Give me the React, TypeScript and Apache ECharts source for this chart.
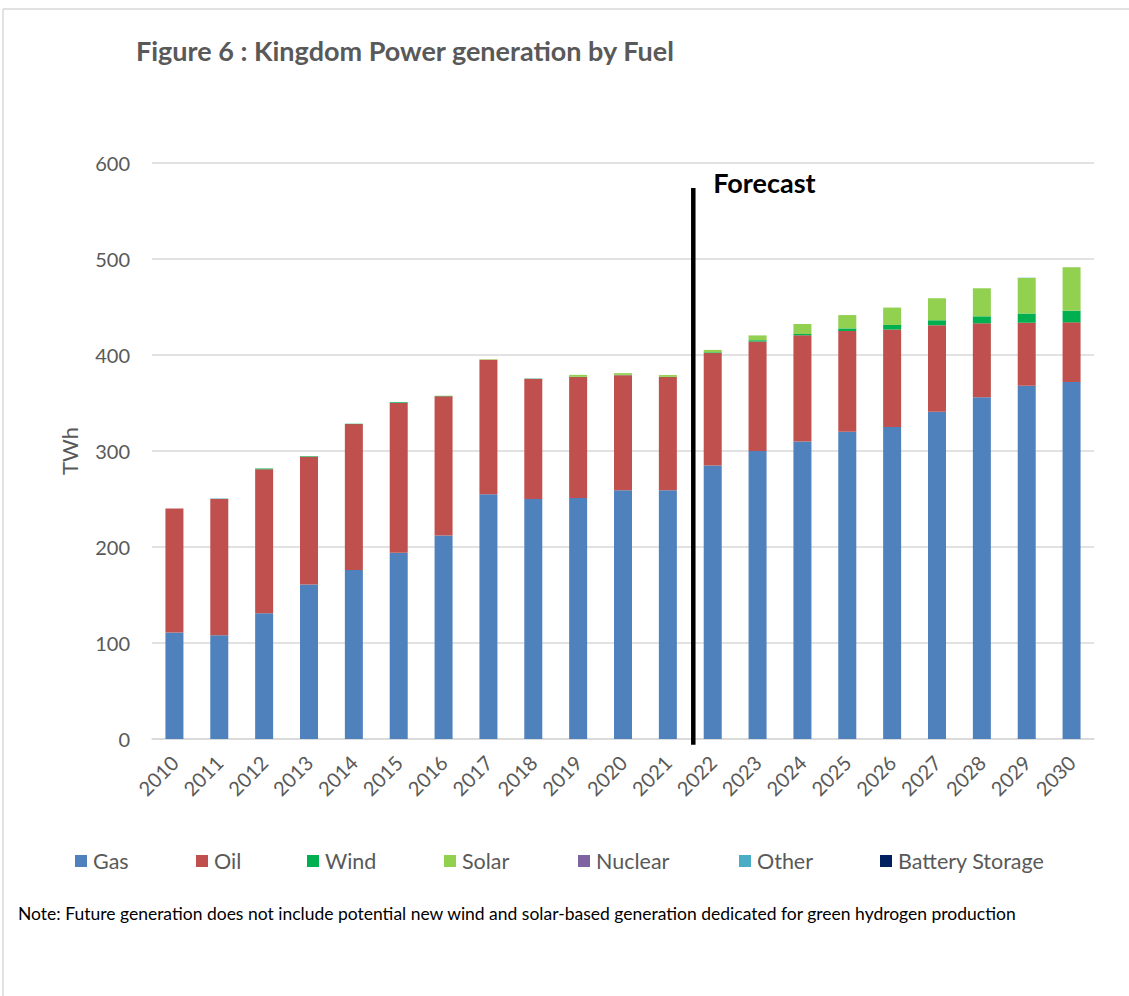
import React, { useEffect, useRef } from "react";
import * as echarts from "echarts";

const years = ["2010","2011","2012","2013","2014","2015","2016","2017","2018","2019","2020","2021","2022","2023","2024","2025","2026","2027","2028","2029","2030"];
const gas = [111,108,131,161,176,194,212,255,250,251,259,259,285,300,310,320,325,341,356,368,372];
const oil = [129,142,150,133,152,156,145,140,125,126,120,118,117,114,110.5,105,101.5,90,77,65.5,62];
const wind = [0,0,0.8,0.6,0.4,0.8,0.3,0,0,0.3,0.3,0.3,0.8,1.4,1.4,2.7,4.8,5.2,7.3,9.7,12.2];
const solar = [0,0,0,0,0,0,0.3,0.5,0.3,2,1.8,1.8,2.5,5,10.4,13.9,18.1,22.9,29.2,36.9,45.2];
const nuclear = [0,0,0,0,0,0,0,0,0,0,0,0,0,0,0,0,0,0,0,0,0];
const other = [0,0.5,0,0,0,0,0,0,0.4,0,0,0,0,0,0,0,0,0,0,0.3,0];
const battery = [0,0,0,0,0,0,0,0,0,0,0,0,0,0,0,0,0,0,0,0,0];
const yTicks = [0, 100, 200, 300, 400, 500, 600];

const seriesDefs = [
  { name: "Gas", data: gas, color: "#4f81bd" },
  { name: "Oil", data: oil, color: "#c0504d" },
  { name: "Wind", data: wind, color: "#00b050" },
  { name: "Solar", data: solar, color: "#92d050" },
  { name: "Nuclear", data: nuclear, color: "#8064a2" },
  { name: "Other", data: other, color: "#4bacc6" },
  { name: "Battery Storage", data: battery, color: "#002060" },
];
const legendLefts = [75, 196, 307, 444, 578, 739, 880];

const FONT = "Lato, 'Liberation Sans', sans-serif";

export default function App() {
  const ref = useRef<HTMLDivElement>(null);
  useEffect(() => {
    document.body.style.margin = "0";
    const chart = echarts.init(ref.current!, undefined, { renderer: "svg" });
    const option: any = {
      animation: false,
      backgroundColor: "#ffffff",
      grid: { left: 152, right: 35, top: 163, bottom: 257, containLabel: false },
      legend: seriesDefs.map((s, i) => ({
        data: [s.name],
        left: legendLefts[i],
        top: 850,
        padding: 0,
        icon: "rect",
        itemWidth: 12,
        itemHeight: 12,
        itemGap: 6,
        selectedMode: false,
        textStyle: { fontFamily: FONT, fontSize: 21.5, color: "#595959", padding: [0, 0, 0, 1] },
      })),
      xAxis: {
        type: "category",
        data: years,
        axisLine: { lineStyle: { color: "#d9d9d9", width: 1.5 } },
        axisTick: { show: false },
        axisLabel: { rotate: 45, fontFamily: FONT, fontSize: 20, color: "#595959", margin: 20, interval: 0 },
      },
      yAxis: {
        type: "value",
        min: yTicks[0],
        max: yTicks[yTicks.length - 1],
        interval: 100,
        name: "TWh",
        nameLocation: "middle",
        nameGap: 72,
        nameRotate: 90,
        nameTextStyle: { fontFamily: FONT, fontSize: 22, color: "#595959" },
        axisLine: { show: false },
        axisTick: { show: false },
        splitLine: { lineStyle: { color: "#d9d9d9", width: 1.5 } },
        axisLabel: { fontFamily: FONT, fontSize: 20, color: "#595959", margin: 22 },
      },
      series: seriesDefs.map((s) => ({
        name: s.name,
        type: "bar",
        stack: "total",
        barWidth: 18,
        data: s.data,
        itemStyle: { color: s.color },
        emphasis: { disabled: true },
      })),
      graphic: [
        { type: "line", shape: { x1: 3, y1: 9, x2: 1129, y2: 9 }, style: { stroke: "#d9d9d9", lineWidth: 1.5 } },
        { type: "line", shape: { x1: 3, y1: 9, x2: 3, y2: 996 }, style: { stroke: "#d9d9d9", lineWidth: 1.5 } },
        {
          type: "text", x: 136, y: 50,
          style: { text: "Figure 6 : Kingdom Power generation by Fuel", fontFamily: FONT, fontWeight: "bold", fontSize: 27, fill: "#595959", textVerticalAlign: "middle" },
        },
        {
          type: "text", x: 18, y: 913,
          style: { text: "Note: Future generation does not include potential new wind and solar-based generation dedicated for green hydrogen production", fontFamily: FONT, fontSize: 17.5, fill: "#000000", textVerticalAlign: "middle" },
        },
      ],
    };
    chart.setOption(option);

    const x1 = chart.convertToPixel({ xAxisIndex: 0 }, "2021") as number;
    const x2 = chart.convertToPixel({ xAxisIndex: 0 }, "2022") as number;
    const lx = (x1 + x2) / 2 + 3;
    const yTop = chart.convertToPixel({ yAxisIndex: 0 }, 574) as number;
    const yBot = chart.convertToPixel({ yAxisIndex: 0 }, -6) as number;
    const yText = chart.convertToPixel({ yAxisIndex: 0 }, 580) as number;
    chart.setOption({
      graphic: [
        ...option.graphic,
        { type: "line", shape: { x1: lx, y1: yTop, x2: lx, y2: yBot }, style: { stroke: "#000000", lineWidth: 4.5 }, z: 100 },
        {
          type: "text", x: lx + 20, y: yText,
          style: { text: "Forecast", fontFamily: FONT, fontWeight: "bold", fontSize: 27, fill: "#000000", textVerticalAlign: "middle" },
          z: 100,
        },
      ],
    });
    return () => chart.dispose();
  }, []);
  return <div ref={ref} style={{ width: 1129, height: 996 }} />;
}
